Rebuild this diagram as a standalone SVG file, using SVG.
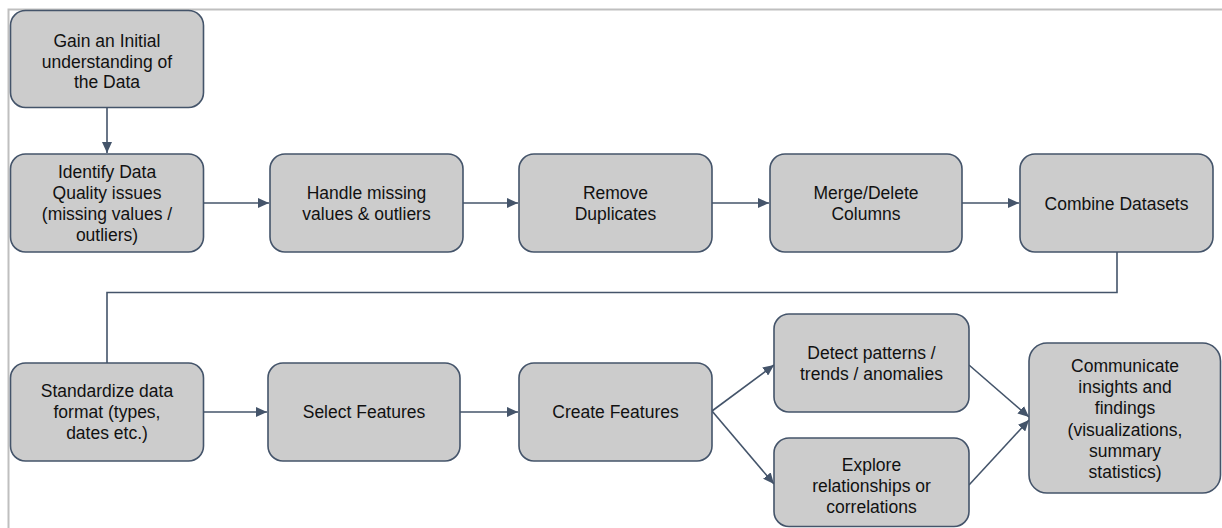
<svg xmlns="http://www.w3.org/2000/svg" width="1222" height="528" viewBox="0 0 1222 528">
<style>
.box{fill:#cccccc;stroke:#44546a;stroke-width:1.6}
.t{font-family:"Liberation Sans",Arial,sans-serif;font-size:17.5px;fill:#111111;text-anchor:middle}
.c{fill:none;stroke:#44546a;stroke-width:1.6}
.frame{fill:none;stroke:#bfbfbf;stroke-width:2}
</style>
<defs>
<marker id="ah" viewBox="0 0 11 10" refX="11" refY="5" markerWidth="11" markerHeight="10" markerUnits="userSpaceOnUse" orient="auto">
<path d="M0,0 L11,5 L0,10 Z" fill="#44546a"/>
</marker>
</defs>
<path class="frame" d="M8.5,528 V9.5 H1222"/>
<g id="connectors">
<path class="c" d="M107,107 V153" marker-end="url(#ah)"/>
<path class="c" d="M203,203 H269" marker-end="url(#ah)"/>
<path class="c" d="M463,203 H518" marker-end="url(#ah)"/>
<path class="c" d="M712,203 H769" marker-end="url(#ah)"/>
<path class="c" d="M962,203 H1019" marker-end="url(#ah)"/>
<path class="c" d="M1117,252 V292.5 H107 V363"/>
<path class="c" d="M203,412 H267" marker-end="url(#ah)"/>
<path class="c" d="M460,412 H518" marker-end="url(#ah)"/>
<path class="c" d="M712,411 L774,365" marker-end="url(#ah)"/>
<path class="c" d="M712,411 L774,484" marker-end="url(#ah)"/>
<path class="c" d="M969,365 L1029,417" marker-end="url(#ah)"/>
<path class="c" d="M969,485 L1029,420" marker-end="url(#ah)"/>
</g>
<g id="n1"><rect class="box" x="10.5" y="10.5" width="193" height="97" rx="15"/>
<text class="t"><tspan x="107" y="47">Gain an Initial</tspan><tspan x="107" y="67.5">understanding of</tspan><tspan x="107" y="88">the Data</tspan></text></g>
<g id="n2"><rect class="box" x="10.5" y="154" width="193" height="98" rx="15"/>
<text class="t"><tspan x="107" y="178">Identify Data</tspan><tspan x="107" y="199">Quality issues</tspan><tspan x="107" y="220">(missing values /</tspan><tspan x="107" y="241">outliers)</tspan></text></g>
<g id="n3"><rect class="box" x="270" y="154" width="193" height="98" rx="15"/>
<text class="t"><tspan x="366.5" y="199">Handle missing</tspan><tspan x="366.5" y="220">values &amp; outliers</tspan></text></g>
<g id="n4"><rect class="box" x="519" y="154" width="193" height="98" rx="15"/>
<text class="t"><tspan x="615.5" y="199">Remove</tspan><tspan x="615.5" y="220">Duplicates</tspan></text></g>
<g id="n5"><rect class="box" x="770" y="154" width="192" height="98" rx="15"/>
<text class="t"><tspan x="866" y="199">Merge/Delete</tspan><tspan x="866" y="220">Columns</tspan></text></g>
<g id="n6"><rect class="box" x="1020" y="154" width="193" height="98" rx="15"/>
<text class="t"><tspan x="1116.5" y="209.5">Combine Datasets</tspan></text></g>
<g id="n7"><rect class="box" x="10.5" y="363" width="193" height="98" rx="15"/>
<text class="t"><tspan x="107" y="397">Standardize data</tspan><tspan x="107" y="418">format (types,</tspan><tspan x="107" y="439">dates etc.)</tspan></text></g>
<g id="n8"><rect class="box" x="268" y="363" width="192" height="98" rx="15"/>
<text class="t"><tspan x="364" y="418">Select Features</tspan></text></g>
<g id="n9"><rect class="box" x="519" y="363" width="193" height="98" rx="15"/>
<text class="t"><tspan x="615.5" y="418">Create Features</tspan></text></g>
<g id="n10"><rect class="box" x="774" y="314" width="195" height="98" rx="15"/>
<text class="t"><tspan x="871.5" y="358.5">Detect patterns /</tspan><tspan x="871.5" y="379.5">trends / anomalies</tspan></text></g>
<g id="n11"><rect class="box" x="774" y="438" width="195" height="88.5" rx="15"/>
<text class="t"><tspan x="871.5" y="471">Explore</tspan><tspan x="871.5" y="492">relationships or</tspan><tspan x="871.5" y="513">correlations</tspan></text></g>
<g id="n12"><rect class="box" x="1029" y="343" width="191.5" height="150" rx="18"/>
<text class="t"><tspan x="1125" y="371.5">Communicate</tspan><tspan x="1125" y="392.5">insights and</tspan><tspan x="1125" y="414">findings</tspan><tspan x="1125" y="435.5">(visualizations,</tspan><tspan x="1125" y="457">summary</tspan><tspan x="1125" y="478">statistics)</tspan></text></g>
</svg>
